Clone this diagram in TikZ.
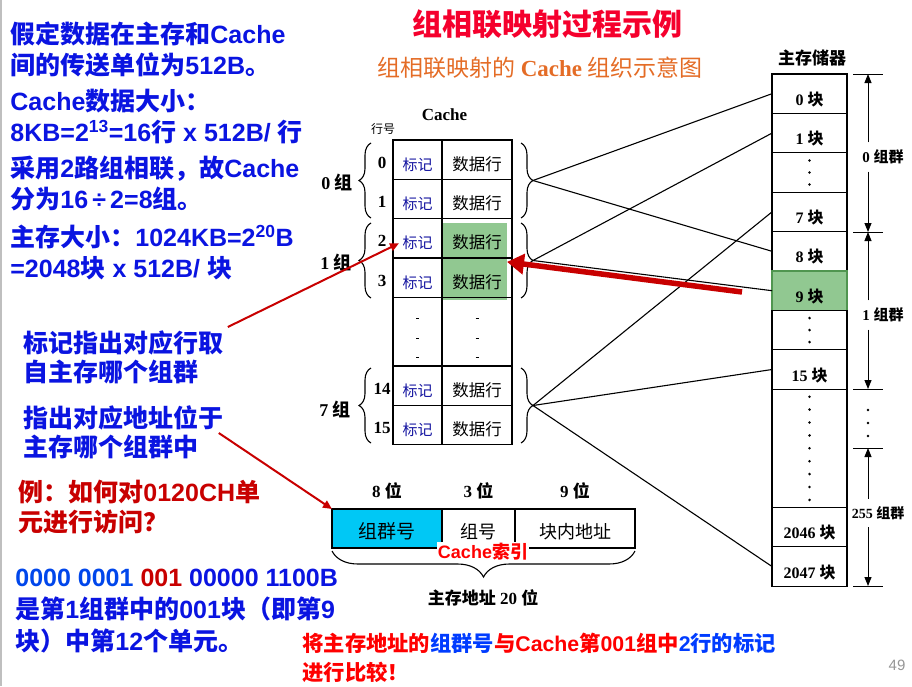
\documentclass[tikz,border=0pt]{standalone}
\usepackage{fontspec}
\setmainfont{Liberation Serif}
\newfontfamily\zhfont{Noto Sans CJK SC}
\newfontfamily\enfont{Liberation Sans}
\newcommand\zh[1]{{\zhfont #1}}
\newcommand\en[1]{{\enfont #1}}
\usepackage{tikz}
\usetikzlibrary{positioning}
\usetikzlibrary{calc}
\usetikzlibrary{arrows.meta}
\usetikzlibrary{decorations.pathreplacing}

\definecolor{infoblue}{RGB}{10,20,225}
\definecolor{numblue}{RGB}{0,70,235}
\definecolor{darkred}{RGB}{200,0,0}
\definecolor{titlered}{RGB}{245,0,45}
\definecolor{suborange}{RGB}{228,108,38}
\definecolor{tagblue}{RGB}{20,20,160}
\definecolor{hlgreen}{RGB}{145,200,145}
\definecolor{hledge}{RGB}{80,150,80}
\definecolor{fieldcyan}{RGB}{0,200,245}
\definecolor{cmpblue}{RGB}{0,60,255}
\definecolor{pagegray}{RGB}{150,150,150}

\begin{document}
\begin{tikzpicture}[x=1pt, y=-1pt, thick,
    note/.style = {anchor=north west, inner sep=0pt, align=left, font=\zhfont\bfseries\fontsize{25}{31}\selectfont},
    cachecell/.style = {draw, line width=1.3pt, minimum height=39.3pt, inner sep=0pt, outer sep=0pt, text height=21pt, text depth=0pt},
    tagcell/.style = {cachecell, minimum width=49pt, text=tagblue, font=\zhfont\fontsize{15}{15}\selectfont},
    datacell/.style = {cachecell, minimum width=70pt, font=\zhfont\fontsize{16.5}{16.5}\selectfont},
    rownum/.style = {inner sep=0pt, text height=17pt, text depth=0pt, font=\bfseries\fontsize{17}{17}\selectfont},
    grplbl/.style = {font=\bfseries\fontsize{18}{18}\selectfont},
    blk/.style = {draw, line width=1.2pt, minimum width=75pt, minimum height=39.4pt, inner sep=0pt, outer sep=0pt, text height=23pt, text depth=0pt, font=\bfseries\fontsize{16}{16}\selectfont},
    memlbl/.style = {inner xsep=0pt, inner ysep=7pt, font=\bfseries\fontsize{15}{15}\selectfont},
    field/.style = {draw, line width=1.2pt, minimum height=39pt, inner sep=0pt, outer sep=0pt, text height=20.6pt, text depth=0pt, font=\zhfont\fontsize{18}{18}\selectfont},
    bitlbl/.style = {font=\bfseries\fontsize{17}{17}\selectfont},
    brc/.style = {decorate, decoration={brace, amplitude=12pt}, line width=1.1pt},
    link/.style = {line width=1.1pt},
    dim/.style = {line width=1pt, -{Triangle[length=9pt, width=7pt]}},
    redarrow/.style = {darkred, line width=2pt, -{Triangle[length=9pt, width=8pt]}},
    bigarrow/.style = {darkred, line width=5.5pt, -{Triangle[length=17pt, width=20pt]}}]
\useasboundingbox (0,0) rectangle (912,686);
\draw[black!25, line width=1.5pt] (0.75,0) -- (0.75,686);

% titles
\node[text=titlered, font=\zhfont\bfseries\fontsize{30}{30}\selectfont] (title) at (547,24) {组相联映射过程示例};
\node[text=suborange, font=\fontsize{23}{23}\selectfont] (subtitle) at (540,68) {\zh{组相联映射的} \textbf{Cache} \zh{组织示意图}};

% left notes
\node[note, text=infoblue] (info1) at (10,21) {假定数据在主存和\en{Cache}\\间的传送单位为\en{512B}。};
\node[note, text=infoblue] (info2) at (10,89) {\en{Cache}数据大小：\\\en{8KB=2\textsuperscript{13}=16}行\en{ x 512B/ }行};
\node[note, text=infoblue] (info3) at (10,156) {采用\en{2}路组相联，故\en{Cache}\\分为\en{16\,÷\,2=8}组。};
\node[note, text=infoblue] (info4) at (10,225) {主存大小：\en{1024KB=2\textsuperscript{20}B}\\\en{=2048}块\en{ x 512B/ }块};
\node[note, text=infoblue, font=\zhfont\bfseries\fontsize{25}{29.5}\selectfont] (tagnote) at (23,330) {标记指出对应行取\\自主存哪个组群};
\node[note, text=infoblue, font=\zhfont\bfseries\fontsize{25}{29.5}\selectfont] (grpnote) at (23,405) {指出对应地址位于\\主存哪个组群中};
\node[note, text=darkred, font=\zhfont\bfseries\fontsize{25}{30}\selectfont] (example) at (18,480) {例：如何对\en{0120CH}单\\元进行访问？};
\node[note, text=infoblue, font=\zhfont\bfseries\fontsize{25}{32}\selectfont] (answer) at (15,569) {\en{\textcolor{numblue}{0000 0001} \textcolor{darkred}{001} 00000 1100B}\\是第\en{1}组群中的\en{001}块（即第\en{9}\\块）中第\en{12}个单元。};
\node[note, text=red, font=\zhfont\bfseries\fontsize{21.3}{29}\selectfont] (compare) at (302,632.5) {将主存地址的\textcolor{cmpblue}{组群号}与\en{Cache}第\en{001}组中\textcolor{cmpblue}{\en{2}行的标记}\\进行比较！};

% cache
\node[font=\bfseries\fontsize{17}{17}\selectfont] (cachetitle) at (444.5,115) {Cache};
\node[font=\zhfont\fontsize{12}{12}\selectfont] (rowhead) at (383,129) {行号};
\fill[hlgreen] (441,223) rectangle (507,300);
\foreach \r/\y in {0/159.65, 1/198.95, 2/238.25, 3/277.55, 14/385.65, 15/424.95} {
  \node[tagcell] (tag\r) at (417.5,\y) {标记};
  \node[datacell] (data\r) at (477,\y) {数据行};
  \node[rownum] (num\r) at (382,\y) {\r};
}
\draw[line width=1.3pt] (tag3.south west) -- (tag14.north west)
  (tag3.south east) -- (tag14.north east)
  (data3.south east) -- (data14.north east);
\foreach \yy in {318,338,357} {
  \draw (416,\yy) -- (419,\yy);
  \draw (475.5,\yy) -- (478.5,\yy);
}

% group braces
\draw[brc] (371,218) -- (371,143);
\draw[brc] (371,298) -- (371,223);
\draw[brc] (371,443) -- (371,368);
\draw[brc] (521,143) -- (521,218);
\draw[brc] (521,223) -- (521,298);
\draw[brc] (521,368) -- (521,443);
\node[grplbl] (grp0) at (337,182) {0 \zh{组}};
\node[grplbl] (grp1) at (336,262) {1 \zh{组}};
\node[grplbl] (grp7) at (335,409) {7 \zh{组}};
\coordinate (g0) at (533,180.5);
\coordinate (g1) at (533,260.5);
\coordinate (g7) at (533,405.5);

% main memory
\node[font=\zhfont\bfseries\fontsize{17}{17}\selectfont] (memtitle) at (812,58) {主存储器};
\node[blk] (m0) at (809.5,93.7) {0 \zh{块}};
\node[blk] (m1) [below=0pt of m0] {1 \zh{块}};
\node[blk] (d1) [below=0pt of m1] {};
\node[blk] (m7) [below=0pt of d1] {7 \zh{块}};
\node[blk] (m8) [below=0pt of m7] {8 \zh{块}};
\node[blk, fill=hlgreen, draw=hledge] (m9) [below=0pt of m8] {9 \zh{块}};
\node[blk] (d2) [below=0pt of m9] {};
\node[blk] (m15) [below=0pt of d2] {15 \zh{块}};
\node[blk, minimum height=118.2pt] (d3) [below=0pt of m15] {};
\node[blk] (m2046) [below=0pt of d3] {2046 \zh{块}};
\node[blk] (m2047) [below=0pt of m2046] {2047 \zh{块}};
\foreach \k in {-1,0,1} {
  \fill ($(d1.center)+(0,12*\k)$) circle (1.4pt);
  \fill ($(d2.center)+(0,12*\k)$) circle (1.4pt);
}
\foreach \k in {-4,...,4}
  \fill ($(d3.center)+(0,12.9*\k)$) circle (1.4pt);

% group ranges of main memory
\coordinate (tk0) at (868,74);
\coordinate (tk1) at (868,232);
\coordinate (tk2) at (868,389);
\coordinate (tk3) at (868,448);
\coordinate (tk4) at (868,586);
\foreach \c in {tk0,tk1,tk2,tk3,tk4}
  \draw[line width=1pt] ([xshift=-15pt]\c) -- ([xshift=15pt]\c);
\node[memlbl] (mg0) at (883,157) {0 \zh{组群}};
\draw[dim] (mg0.north -| tk0) -- (tk0);
\draw[dim] (mg0.south -| tk1) -- (tk1);
\node[memlbl] (mg1) at (883,315) {1 \zh{组群}};
\draw[dim] (mg1.north -| tk1) -- (tk1);
\draw[dim] (mg1.south -| tk2) -- (tk2);
\foreach \yy in {410,423,436}
  \fill (868,\yy) circle (1.4pt);
\node[memlbl, font=\bfseries\fontsize{14}{14}\selectfont] (mg255) at (878,513) {255 \zh{组群}};
\draw[dim] (mg255.north -| tk3) -- (tk3);
\draw[dim] (mg255.south -| tk4) -- (tk4);

% mapping lines
\draw[link] (g0) -- (m0.west);
\draw[link] (g0) -- (m8.west);
\draw[link] (g1) -- (m1.west);
\draw[link] (g1) -- (m9.west);
\draw[link] (g7) -- (m7.west);
\draw[link] (g7) -- (m15.west);
\draw[link] (g7) -- (m2047.west);

% address format
\node[field, minimum width=110pt, fill=fieldcyan, font=\zhfont\fontsize{19}{19}\selectfont] (f1) at (387,528.5) {组群号};
\node[field, minimum width=73pt] (f2) [right=0pt of f1] {组号};
\node[field, minimum width=120pt] (f3) [right=0pt of f2] {块内地址};
\node[bitlbl] (w1) [above=6pt of f1] {8 \zh{位}};
\node[bitlbl] (w2) [above=6pt of f2] {3 \zh{位}};
\node[bitlbl] (w3) [above=6pt of f3] {9 \zh{位}};
\draw[brc, decoration={brace, amplitude=26pt}] ([yshift=-3pt]f3.south east) -- ([yshift=-3pt]f1.south west);
\node[text=red, fill=white, inner sep=1pt, font=\zhfont\bfseries\fontsize{18}{18}\selectfont] (idx) at (483,552) {\en{Cache}索引};
\node[bitlbl] (addrlen) at (483,598) {\zh{主存地址} 20 \zh{位}};

% red arrows
\coordinate (hit) at (742,292);
\draw[redarrow] ($(tagnote.north east)+(4,-3)$) -- ([xshift=6pt, yshift=-5pt]tag2.west);
\draw[redarrow] ($(grpnote.north east)+(-5,28)$) -- (f1.north west);
\draw[bigarrow] (hit) -- ([xshift=-5pt, yshift=-4pt]data2.south east);

\node[text=pagegray, font=\enfont\fontsize{15}{15}\selectfont] (page) at (897,665) {49};
\end{tikzpicture}
\end{document}
